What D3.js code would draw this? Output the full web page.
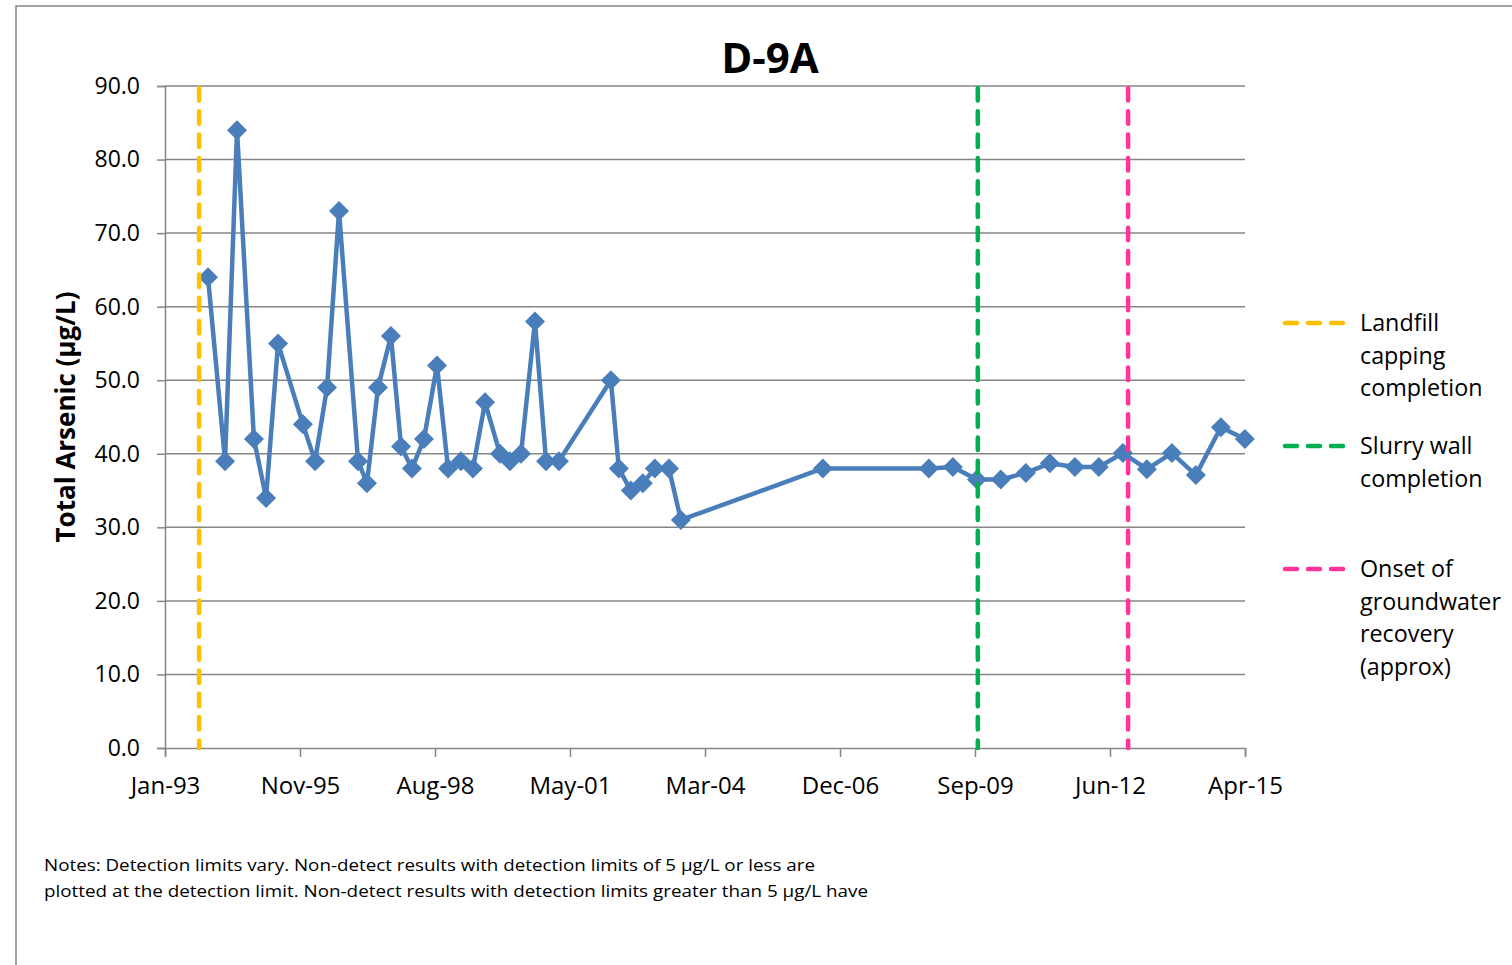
<!DOCTYPE html>
<html>
<head>
<meta charset="utf-8">
<script src="https://cdn.jsdelivr.net/npm/d3@7"></script>
<style>
  html, body { margin: 0; padding: 0; background: #fff; }
  svg { display: block; }
  text { font-family: "Open Sans", "DejaVu Sans", sans-serif; fill: #000; }
</style>
</head>
<body>
<svg id="chart" width="1512" height="965"></svg>
<script>
// Well D-9A: total arsenic sampling results
const sampleDates = [
  "1993-12-11","1994-04-18","1994-07-17","1994-11-21","1995-02-20","1995-05-21",
  "1995-11-24","1996-02-23","1996-05-23","1996-08-21","1997-01-11","1997-03-19",
  "1997-06-10","1997-09-15","1997-11-30","1998-02-20","1998-05-21","1998-08-27",
  "1998-11-18","1999-02-23","1999-05-24","1999-08-23","1999-12-13","2000-02-26",
  "2000-05-19","2000-09-01","2000-11-23","2001-02-28","2002-03-25","2002-05-24",
  "2002-08-22","2002-11-20","2003-02-18","2003-06-04","2003-09-02","2006-08-03",
  "2008-10-07","2009-04-06","2009-10-03","2010-04-01","2010-10-06","2011-04-04",
  "2011-10-09","2012-04-06","2012-10-04","2013-04-02","2013-10-07","2014-04-05",
  "2014-10-10","2015-04-08"
];
const arsenic = [
  64, 39, 84, 42, 34, 55,
  44, 39, 49, 73, 39, 36,
  49, 56, 41, 38, 42, 52,
  38, 39, 38, 47, 40, 39,
  40, 58, 39, 39, 50, 38,
  35, 36, 38, 38, 31, 38,
  38, 38.2, 36.5, 36.5, 37.4, 38.7,
  38.2, 38.2, 40.1, 37.9, 40.1, 37.1,
  43.6, 42
];

// Milestone markers
const eventNames = [
  ["Landfill", "capping", "completion"],
  ["Slurry wall", "completion"],
  ["Onset of", "groundwater", "recovery", "(approx)"]
];
const eventDates = ["1993-10-05", "2009-10-10", "2012-11-12"];
const eventColors = ["#FFC000", "#00B050", "#FF3399"];

// Axis setup
const xAxisStart = "1993-01-22";
const xAxisStepDays = 1014;
const xTickLabels = ["Jan-93","Nov-95","Aug-98","May-01","Mar-04","Dec-06","Sep-09","Jun-12","Apr-15"];
const yTickValues = [0, 10, 20, 30, 40, 50, 60, 70, 80, 90];

const title = "D-9A";
const yTitle = "Total Arsenic (µg/L)";
const notes = [
  "Notes: Detection limits vary. Non-detect results with detection limits of 5 µg/L or less are",
  "plotted at the detection limit. Non-detect results with detection limits greater than 5 µg/L have"
];

const parse = d3.timeParse("%Y-%m-%d");
const svg = d3.select("#chart");

const plot = { left: 165, right: 1245, top: 86, bottom: 748 };
const x0 = parse(xAxisStart);
const xTicks = xTickLabels.map((_, i) => d3.timeDay.offset(x0, i * xAxisStepDays));

const x = d3.scaleTime()
  .domain([xTicks[0], xTicks[xTicks.length - 1]])
  .range([plot.left, plot.right]);
const y = d3.scaleLinear()
  .domain([0, 90])
  .range([plot.bottom, plot.top]);

const axisGrey = "#868686";

// Chart frame
svg.append("rect")
  .attr("x", 16).attr("y", 6)
  .attr("width", 1560).attr("height", 1000)
  .attr("fill", "none").attr("stroke", axisGrey).attr("stroke-width", 1.5);

// Horizontal gridlines
svg.append("g")
  .selectAll("line")
  .data(yTickValues.filter(v => v > 0))
  .join("line")
  .attr("x1", plot.left).attr("x2", plot.right)
  .attr("y1", d => y(d)).attr("y2", d => y(d))
  .attr("stroke", axisGrey).attr("stroke-width", 1.5);

// Y axis
const yAxis = svg.append("g")
  .attr("transform", `translate(${plot.left},0)`)
  .call(d3.axisLeft(y).tickValues(yTickValues).tickFormat(d3.format(".1f")).tickSizeOuter(0).tickSize(8).tickPadding(17));
yAxis.select(".domain").attr("stroke", axisGrey).attr("stroke-width", 1.5);
yAxis.selectAll(".tick line").attr("stroke", axisGrey).attr("stroke-width", 1.5);
yAxis.selectAll(".tick text")
  .attr("font-size", 23).attr("font-family", "'Open Sans', sans-serif").attr("fill", "#000");

// X axis
const xAxis = svg.append("g")
  .attr("transform", `translate(0,${plot.bottom})`)
  .call(d3.axisBottom(x).tickValues(xTicks).tickFormat((d, i) => xTickLabels[i]).tickSizeOuter(0).tickSize(9).tickPadding(20));
xAxis.select(".domain").attr("stroke", axisGrey).attr("stroke-width", 1.5);
xAxis.selectAll(".tick line").attr("stroke", axisGrey).attr("stroke-width", 1.5);
xAxis.selectAll(".tick text")
  .attr("font-size", 24).attr("font-family", "'Open Sans', sans-serif").attr("fill", "#000");

// Data series
const series = sampleDates.map((d, i) => ({ date: parse(d), value: arsenic[i] }));
const blue = "#4A7EBB";

svg.append("path")
  .datum(series)
  .attr("fill", "none")
  .attr("stroke", blue)
  .attr("stroke-width", 4.5)
  .attr("stroke-linejoin", "round")
  .attr("d", d3.line().x(d => x(d.date)).y(d => y(d.value)));

const r = 10;
svg.append("g")
  .selectAll("path")
  .data(series)
  .join("path")
  .attr("transform", d => `translate(${x(d.date)},${y(d.value)})`)
  .attr("d", `M0,${-r}L${r},0L0,${r}L${-r},0Z`)
  .attr("fill", blue);

// Milestone lines
svg.append("g")
  .selectAll("line")
  .data(eventDates)
  .join("line")
  .attr("x1", d => x(parse(d))).attr("x2", d => x(parse(d)))
  .attr("y1", plot.top + 2).attr("y2", plot.bottom)
  .attr("stroke", (d, i) => eventColors[i])
  .attr("stroke-width", 4.5)
  .attr("stroke-linecap", "round")
  .attr("stroke-dasharray", "12.5,10.8");

// Title
svg.append("text")
  .attr("x", 770).attr("y", 73)
  .attr("text-anchor", "middle")
  .attr("font-size", 42).attr("font-weight", "bold")
  .text(title);

// Y axis title
svg.append("text")
  .attr("transform", "translate(75,417) rotate(-90)")
  .attr("text-anchor", "middle")
  .attr("font-size", 26).attr("font-weight", "bold")
  .text(yTitle);

// Legend
const legendY = [323, 446, 569];
const legend = svg.append("g");
eventNames.forEach((lines, i) => {
  legend.append("line")
    .attr("x1", 1285).attr("x2", 1347)
    .attr("y1", legendY[i]).attr("y2", legendY[i])
    .attr("stroke", eventColors[i]).attr("stroke-width", 4.5)
    .attr("stroke-linecap", "round")
    .attr("stroke-dasharray", "12,11");
  const t = legend.append("text")
    .attr("x", 1360).attr("y", legendY[i])
    .attr("font-size", 23.3);
  lines.forEach((s, j) => {
    t.append("tspan")
      .attr("x", 1360)
      .attr("y", legendY[i] + j * 32.5)
      .attr("dy", "0.35em")
      .text(s);
  });
});

// Notes
const noteWidths = [771, 824];
notes.forEach((s, i) => {
  svg.append("text")
    .attr("x", 44).attr("y", 871 + i * 26)
    .attr("font-size", 17)
    .attr("font-family", "Lato, 'Open Sans', sans-serif")
    .attr("textLength", noteWidths[i])
    .attr("lengthAdjust", "spacingAndGlyphs")
    .text(s);
});
</script>
</body>
</html>
